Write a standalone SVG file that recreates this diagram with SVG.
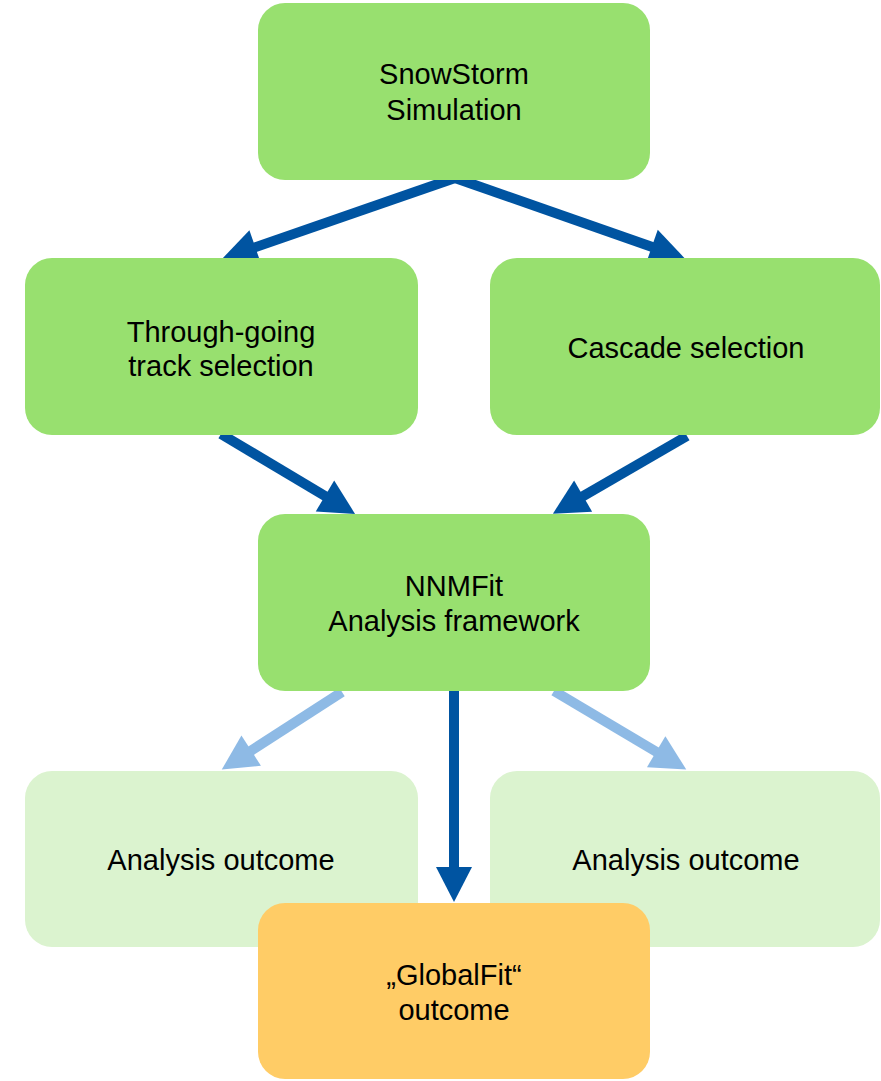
<svg xmlns="http://www.w3.org/2000/svg" width="881" height="1081" viewBox="0 0 881 1081">
  <style>
    .box { stroke: none; }
    .main { fill: #98E06F; }
    .pale { fill: #DBF3CF; }
    .final { fill: #FFCC66; }
    .label { font-family: "Liberation Sans", Arial, sans-serif; font-size: 29px; fill: #000; text-anchor: middle; }
    .dark { stroke: #0054A1; stroke-width: 10; fill: none; }
    .light { stroke: #8EBAE5; stroke-width: 10; fill: none; }
  </style>
  <defs>
    <marker id="headDark" markerUnits="userSpaceOnUse" orient="auto" markerWidth="40" markerHeight="40" refX="2" refY="0" viewBox="0 -20 40 40" overflow="visible">
      <path d="M0,-18 L35,0 L0,18 Z" fill="#0054A1"/>
    </marker>
    <marker id="headLight" markerUnits="userSpaceOnUse" orient="auto" markerWidth="40" markerHeight="40" refX="2" refY="0" viewBox="0 -20 40 40" overflow="visible">
      <path d="M0,-18 L35,0 L0,18 Z" fill="#8EBAE5"/>
    </marker>
  </defs>

  <rect width="881" height="1081" fill="#FFFFFF"/>

  <!-- connectors, drawn below the boxes -->
  <g id="connectors">
    <line class="dark" x1="455" y1="178" x2="253.4" y2="247.9" marker-end="url(#headDark)"/>
    <line class="dark" x1="455" y1="178" x2="653.7" y2="247.5" marker-end="url(#headDark)"/>
    <line class="dark" x1="221" y1="434" x2="326.7" y2="497" marker-end="url(#headDark)"/>
    <line class="dark" x1="687" y1="436" x2="581.4" y2="497.2" marker-end="url(#headDark)"/>
    <line class="light" x1="342" y1="692" x2="249.5" y2="751.7" marker-end="url(#headLight)"/>
    <line class="light" x1="554" y1="691" x2="657.9" y2="752.7" marker-end="url(#headLight)"/>
    <line class="dark" x1="454" y1="688" x2="454" y2="869" stroke-width="12" marker-end="url(#headDark)"/>
  </g>

  <g id="snowstorm">
    <rect class="box main" x="258" y="3" width="392" height="177" rx="27"/>
    <text class="label" x="454" y="84">SnowStorm</text>
    <text class="label" x="454" y="120">Simulation</text>
  </g>

  <g id="track-selection">
    <rect class="box main" x="25" y="258" width="393" height="177" rx="27"/>
    <text class="label" x="221" y="342">Through-going</text>
    <text class="label" x="221" y="376">track selection</text>
  </g>

  <g id="cascade-selection">
    <rect class="box main" x="490" y="258" width="390" height="177" rx="27"/>
    <text class="label" x="686" y="358">Cascade selection</text>
  </g>

  <g id="nnmfit">
    <rect class="box main" x="258" y="514" width="392" height="177" rx="27"/>
    <text class="label" x="454" y="596">NNMFit</text>
    <text class="label" x="454" y="631">Analysis framework</text>
  </g>

  <g id="outcome-left">
    <rect class="box pale" x="25" y="771" width="393" height="176" rx="27"/>
    <text class="label" x="221" y="870">Analysis outcome</text>
  </g>

  <g id="outcome-right">
    <rect class="box pale" x="490" y="771" width="390" height="176" rx="27"/>
    <text class="label" x="686" y="870">Analysis outcome</text>
  </g>

  <g id="globalfit">
    <rect class="box final" x="258" y="903" width="392" height="176" rx="27"/>
    <text class="label" x="454" y="985">„GlobalFit“</text>
    <text class="label" x="454" y="1020">outcome</text>
  </g>
</svg>
